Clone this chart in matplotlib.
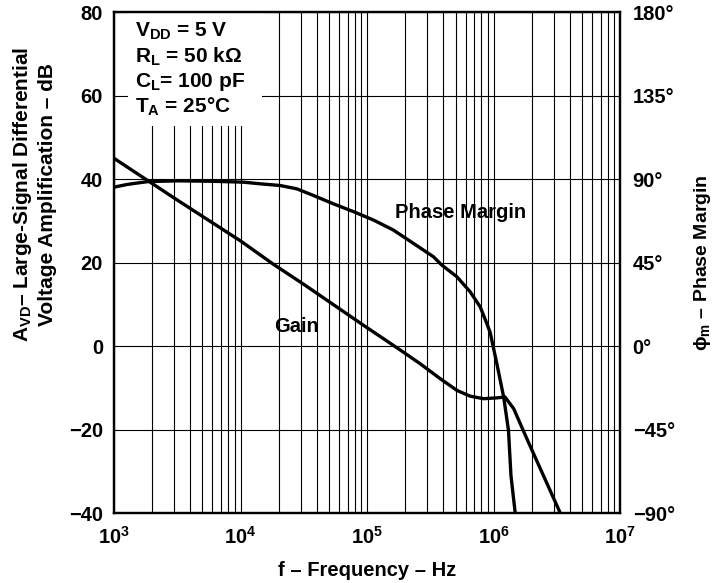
import numpy as np
import matplotlib
matplotlib.use("Agg")
import matplotlib.pyplot as plt
from matplotlib.patches import Rectangle
from matplotlib.ticker import FixedLocator, LogLocator, NullFormatter

# Gain curve (Hz, dB)
gain_freq = [1e3, 3.16e3, 1e4, 1.82e4, 3.16e4, 1e5, 1.27e5, 1.82e5, 2.62e5,
             3.78e5, 5.12e5, 6.52e5, 8.32e5, 1.06e6, 1.23e6, 1.44e6, 1.83e6,
             3.36e6]
gain_db = [45.0, 35.0, 25.2, 19.6, 14.8, 4.4, 2.3, -0.9, -4.2,
           -7.8, -10.6, -12.0, -12.6, -12.4, -12.2, -15.0, -22.2,
           -40.0]

# Phase margin curve (Hz, degrees)
phase_freq = [1e3, 1.26e3, 1.41e3, 1.86e3, 3.16e3, 5.75e3, 1.05e4, 1.43e4,
              2.05e4, 2.78e4, 3.77e4, 5.42e4, 7.8e4, 1.12e5, 1.61e5,
              2.32e5, 3.34e5, 3.89e5, 5.12e5, 6.52e5, 7.82e5, 8.83e5,
              9.38e5, 1.06e6, 1.2e6, 1.31e6, 1.37e6, 1.48e6]
phase_deg = [85.7, 87.1, 87.6, 88.7, 89.1, 88.9, 88.4, 87.5,
             86.6, 84.8, 81.2, 76.7, 72.5, 68.0, 62.6,
             55.4, 48.2, 43.7, 37.4, 29.3, 21.2, 12.2,
             7.4, -9.5, -27.5, -45.5, -69.8, -90.0]

box_lines = [r"$V_{DD}$ = 5 V", r"$R_L$ = 50 k$\Omega$",
             r"$C_L$= 100 pF", r"$T_A$ = 25°C"]

left_ticks = [80, 60, 40, 20, 0, -20, -40]
left_labels = ["80", "60", "40", "20", "0", "\u221220", "\u221240"]
right_ticks = [180, 135, 90, 45, 0, -45, -90]
right_labels = ["180°", "135°", "90°", "45°", "0°", "\u221245°", "\u221290°"]
x_ticks = [1e3, 1e4, 1e5, 1e6, 1e7]
x_labels = [r"$10^{3}$", r"$10^{4}$", r"$10^{5}$", r"$10^{6}$", r"$10^{7}$"]

plt.rcParams.update({
    "font.family": "Liberation Sans",
    "font.weight": "bold",
    "axes.labelweight": "bold",
    "mathtext.fontset": "custom",
    "mathtext.rm": "Liberation Sans:bold",
    "mathtext.it": "Liberation Sans:bold",
    "mathtext.bf": "Liberation Sans:bold",
    "mathtext.default": "rm",
})

FS = 14.5

fig = plt.figure(figsize=(7.17, 5.83), dpi=100)
ax = fig.add_axes([0.159, 0.120, 0.706, 0.859])

ax.set_xscale("log")
ax.set_xlim(1e3, 1e7)
ax.set_ylim(-40, 80)

ax.xaxis.set_major_locator(FixedLocator(x_ticks))
ax.set_xticklabels(x_labels, fontsize=FS)
ax.xaxis.set_minor_locator(LogLocator(base=10, subs=np.arange(2, 10)))
ax.xaxis.set_minor_formatter(NullFormatter())
ax.set_yticks(left_ticks)
ax.set_yticklabels(left_labels, fontsize=FS)
ax.tick_params(which="both", length=0, pad=8)
ax.tick_params(axis="x", pad=9)

ax.grid(True, which="both", axis="x", color="black", linewidth=0.8)
ax.grid(True, which="major", axis="y", color="black", linewidth=0.8)
ax.set_axisbelow(True)
for s in ax.spines.values():
    s.set_linewidth(1.6)

# white box behind the condition text
ax.add_patch(Rectangle((0.028, 0.772), 0.264, 0.228, transform=ax.transAxes,
                       facecolor="white", edgecolor="none", zorder=1))
for i, t in enumerate(box_lines):
    ax.text(0.042, 0.962 - i * 0.0506, t, transform=ax.transAxes,
            fontsize=15, va="center", ha="left", zorder=3)

ax.plot(gain_freq, gain_db, color="black", linewidth=2.4, zorder=2,
        solid_capstyle="butt", solid_joinstyle="round")
ax.text(10 ** 4.44, 4.8, "Gain", fontsize=FS, ha="center", va="center",
        zorder=3)
ax.text(10 ** 5.74, 32, "Phase Margin", fontsize=FS, ha="center",
        va="center", zorder=3)

ax.set_xlabel("f \u2013 Frequency \u2013 Hz", fontsize=FS, labelpad=10)
ax.set_ylabel("$A_{VD}$\u2013 Large-Signal Differential\nVoltage Amplification \u2013 dB",
              fontsize=15, linespacing=1.3)
ax.yaxis.set_label_coords(-0.112, 0.636)

ax2 = ax.twinx()
ax2.set_ylim(-90, 180)
ax2.set_yticks(right_ticks)
ax2.set_yticklabels(right_labels, fontsize=FS)
ax2.tick_params(length=0, pad=9)
for s in ax2.spines.values():
    s.set_linewidth(1.6)
ax2.plot(phase_freq, phase_deg, color="black", linewidth=2.4,
         solid_capstyle="butt", solid_joinstyle="round")
ax2.set_ylabel("$\\phi_m$ \u2013 Phase Margin", fontsize=14)
ax2.yaxis.set_label_coords(1.142, 0.5)

fig.savefig("out.png", dpi=100)
